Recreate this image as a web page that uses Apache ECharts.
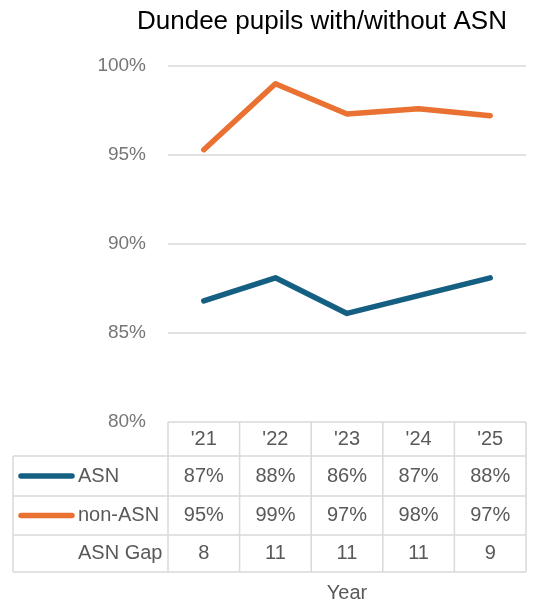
<!DOCTYPE html>
<html>
<head>
<meta charset="utf-8">
<script src="https://cdn.jsdelivr.net/npm/echarts@6/dist/echarts.min.js"></script>
<style>
  html, body { margin: 0; padding: 0; background: #fff; }
  #chart { width: 534px; height: 604px; }
</style>
</head>
<body>
<div id="chart"></div>
<script>
// data
const years = ["'21", "'22", "'23", "'24", "'25"];
const asnRate = [86.8, 88.1, 86.1, 87.1, 88.1];
const nonAsnRate = [95.3, 99.0, 97.3, 97.6, 97.2];
const asnShown = [87, 88, 86, 87, 88];
const nonAsnShown = [95, 99, 97, 98, 97];
const asnGap = [8, 11, 11, 11, 9];
const rowLabels = ['ASN', 'non-ASN', 'ASN Gap'];

const ASN_COLOR = '#156082';
const NON_COLOR = '#E97132';
const GRID_COLOR = '#d9d9d9';
const TEXT = '#595959';
const FONT = 'Liberation Sans, Arial, sans-serif';

// layout
const plotL = 168, plotR = 526, plotT = 66, plotB = 422;
const tableL = 13;
const rowEdges = [422, 456, 496, 535, 572];
const colW = (plotR - plotL) / years.length;

const myChart = echarts.init(document.getElementById('chart'));

function rowCenter(i) {
  return (rowEdges[i] + rowEdges[i + 1]) / 2;
}

function tableAxis(offset, fmt, margin) {
  return {
    type: 'category',
    data: years,
    position: 'bottom',
    offset: offset,
    boundaryGap: true,
    axisLine: { show: false },
    axisTick: { show: false },
    splitLine: { show: false },
    axisLabel: {
      interval: 0,
      margin: margin,
      verticalAlign: 'middle',
      color: TEXT,
      fontSize: 20,
      fontFamily: FONT,
      formatter: fmt
    }
  };
}

const graphics = [];
// table borders
for (let i = 1; i < rowEdges.length; i++) {
  graphics.push({
    type: 'line',
    shape: { x1: tableL, y1: rowEdges[i], x2: plotR, y2: rowEdges[i] },
    style: { stroke: GRID_COLOR, lineWidth: 1.5 }
  });
}
for (let c = 0; c <= years.length; c++) {
  const x = plotL + c * colW;
  graphics.push({
    type: 'line',
    shape: { x1: x, y1: rowEdges[0], x2: x, y2: rowEdges[4] },
    style: { stroke: GRID_COLOR, lineWidth: 1.5 }
  });
}
graphics.push({
  type: 'line',
  shape: { x1: tableL, y1: rowEdges[1], x2: tableL, y2: rowEdges[4] },
  style: { stroke: GRID_COLOR, lineWidth: 1.5 }
});
// legend keys
[ASN_COLOR, NON_COLOR].forEach(function (col, i) {
  const y = rowCenter(i + 1);
  graphics.push({
    type: 'line',
    shape: { x1: 21, y1: y, x2: 72, y2: y },
    style: { stroke: col, lineWidth: 5.5, lineCap: 'round' }
  });
});
// row labels
rowLabels.forEach(function (t, i) {
  graphics.push({
    type: 'text',
    style: {
      text: t, x: 78, y: rowCenter(i + 1),
      verticalAlign: 'middle', align: 'left',
      fill: TEXT, font: '20px ' + FONT
    }
  });
});
// axis title
graphics.push({
  type: 'text',
  style: {
    text: 'Year', x: (plotL + plotR) / 2, y: 593,
    verticalAlign: 'middle', align: 'center',
    fill: TEXT, font: '20px ' + FONT
  }
});

const option = {
  animation: false,
  title: {
    text: 'Dundee pupils with/without ASN',
    left: 137,
    top: 9,
    padding: 0,
    textStyle: { color: '#000', fontSize: 26, fontWeight: 'normal', fontFamily: FONT }
  },
  grid: { left: plotL, right: 534 - plotR, top: plotT, bottom: 604 - plotB, containLabel: false },
  xAxis: [
    tableAxis(0, function (v) { return v; }, rowCenter(0) - plotB),
    tableAxis(rowCenter(1) - plotB, function (v, i) { return asnShown[i] + '%'; }, 0),
    tableAxis(rowCenter(2) - plotB, function (v, i) { return nonAsnShown[i] + '%'; }, 0),
    tableAxis(rowCenter(3) - plotB, function (v, i) { return String(asnGap[i]); }, 0)
  ],
  yAxis: {
    type: 'value',
    min: 80,
    max: 100,
    interval: 5,
    axisLine: { show: false },
    axisTick: { show: false },
    splitLine: { lineStyle: { color: GRID_COLOR, width: 1.5 } },
    axisLabel: {
      formatter: '{value}%',
      color: '#767676',
      fontSize: 19,
      fontFamily: FONT,
      margin: 22
    }
  },
  series: [
    {
      name: 'ASN',
      type: 'line',
      data: asnRate,
      showSymbol: false,
      lineStyle: { color: ASN_COLOR, width: 5.5, cap: 'round', join: 'round' }
    },
    {
      name: 'non-ASN',
      type: 'line',
      data: nonAsnRate,
      showSymbol: false,
      lineStyle: { color: NON_COLOR, width: 5.5, cap: 'round', join: 'round' }
    }
  ],
  graphic: graphics
};

myChart.setOption(option);
window.addEventListener('resize', () => {
  myChart.resize();
});
</script>
</body>
</html>
